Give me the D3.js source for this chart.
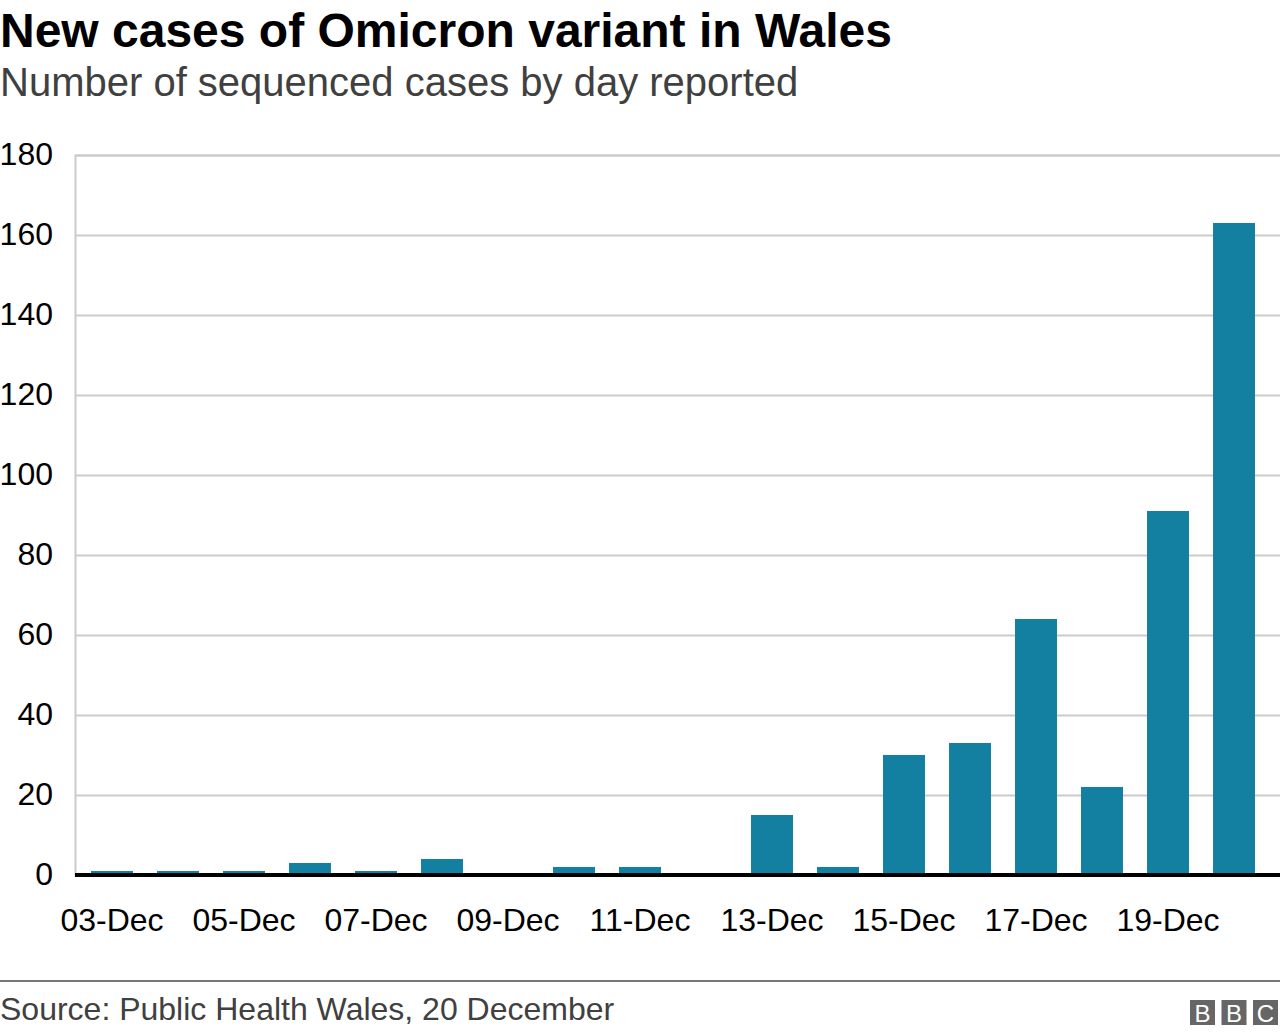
<!DOCTYPE html>
<html><head><meta charset="utf-8">
<script src="https://cdn.jsdelivr.net/npm/d3@7"></script>
<style>body{margin:0;background:#fff}svg{display:block;font-family:"Liberation Sans",Arial,sans-serif}</style>
</head><body><svg id="c" width="1280" height="1036"></svg>
<script>
const days = ["03-Dec","04-Dec","05-Dec","06-Dec","07-Dec","08-Dec","09-Dec","10-Dec","11-Dec","12-Dec","13-Dec","14-Dec","15-Dec","16-Dec","17-Dec","18-Dec","19-Dec","20-Dec"];
const cases = [1,1,1,3,1,4,0,2,2,0,15,2,30,33,64,22,91,163];
const tickLabels = ["03-Dec","05-Dec","07-Dec","09-Dec","11-Dec","13-Dec","15-Dec","17-Dec","19-Dec"];
const yTicks = [0,20,40,60,80,100,120,140,160,180];

const svg = d3.select("#c");
const x = d3.scaleBand().domain(days).range([79,1267]).paddingInner(0.364).paddingOuter(0.182);
const y = d3.scaleLinear().domain([0,180]).range([875,155]);

svg.append("text").attr("x",0).attr("y",47).attr("font-size",48).attr("font-weight","bold").attr("fill","#000").text("New cases of Omicron variant in Wales");
svg.append("text").attr("x",0).attr("y",96).attr("font-size",40).attr("fill","#404040").text("Number of sequenced cases by day reported");

// grid
const yAxis = d3.axisLeft(y).tickValues(yTicks).tickSize(-1205).tickPadding(22).tickFormat(d3.format("d"));
const gy = svg.append("g").attr("transform","translate(75,0)").call(yAxis);
gy.select(".domain").attr("stroke","#cbcbcb").attr("stroke-width",2);
gy.selectAll(".tick line").attr("stroke","#cbcbcb").attr("stroke-width",2);
gy.selectAll(".tick text").attr("font-size",32).attr("fill","#000").attr("font-family","Liberation Sans, Arial, sans-serif").attr("dy","0.3em");

svg.append("g").selectAll("rect").data(days).join("rect")
  .attr("x",d=>x(d)).attr("width",x.bandwidth())
  .attr("y",(d,i)=>y(cases[i])).attr("height",(d,i)=>y(0)-y(cases[i]))
  .attr("fill","#1380a1");

const xAxis = d3.axisBottom(x).tickValues(tickLabels).tickSize(0).tickPadding(0);
const gx = svg.append("g").attr("transform","translate(0,875)").call(xAxis);
gx.select(".domain").remove();
gx.selectAll(".tick text").attr("font-size",32).attr("fill","#000").attr("font-family","Liberation Sans, Arial, sans-serif").attr("dy",null).attr("y",56);
svg.append("line").attr("x1",75).attr("x2",1280).attr("y1",875).attr("y2",875).attr("stroke","#000").attr("stroke-width",4);

// footer
svg.append("line").attr("x1",0).attr("x2",1280).attr("y1",981).attr("y2",981).attr("stroke","#777").attr("stroke-width",2);
svg.append("text").attr("x",0).attr("y",1020).attr("font-size",32).attr("fill","#404040").text("Source: Public Health Wales, 20 December");
const logo = svg.append("g");
["B","B","C"].forEach((ch,i)=>{
  logo.append("rect").attr("x",1190+i*31.5).attr("y",1000).attr("width",25).attr("height",25).attr("fill","#666");
  logo.append("text").attr("x",1190+i*31.5+12.5).attr("y",1021.5).attr("text-anchor","middle").attr("font-size",24).attr("fill","#fff").text(ch);
});
</script></body></html>
